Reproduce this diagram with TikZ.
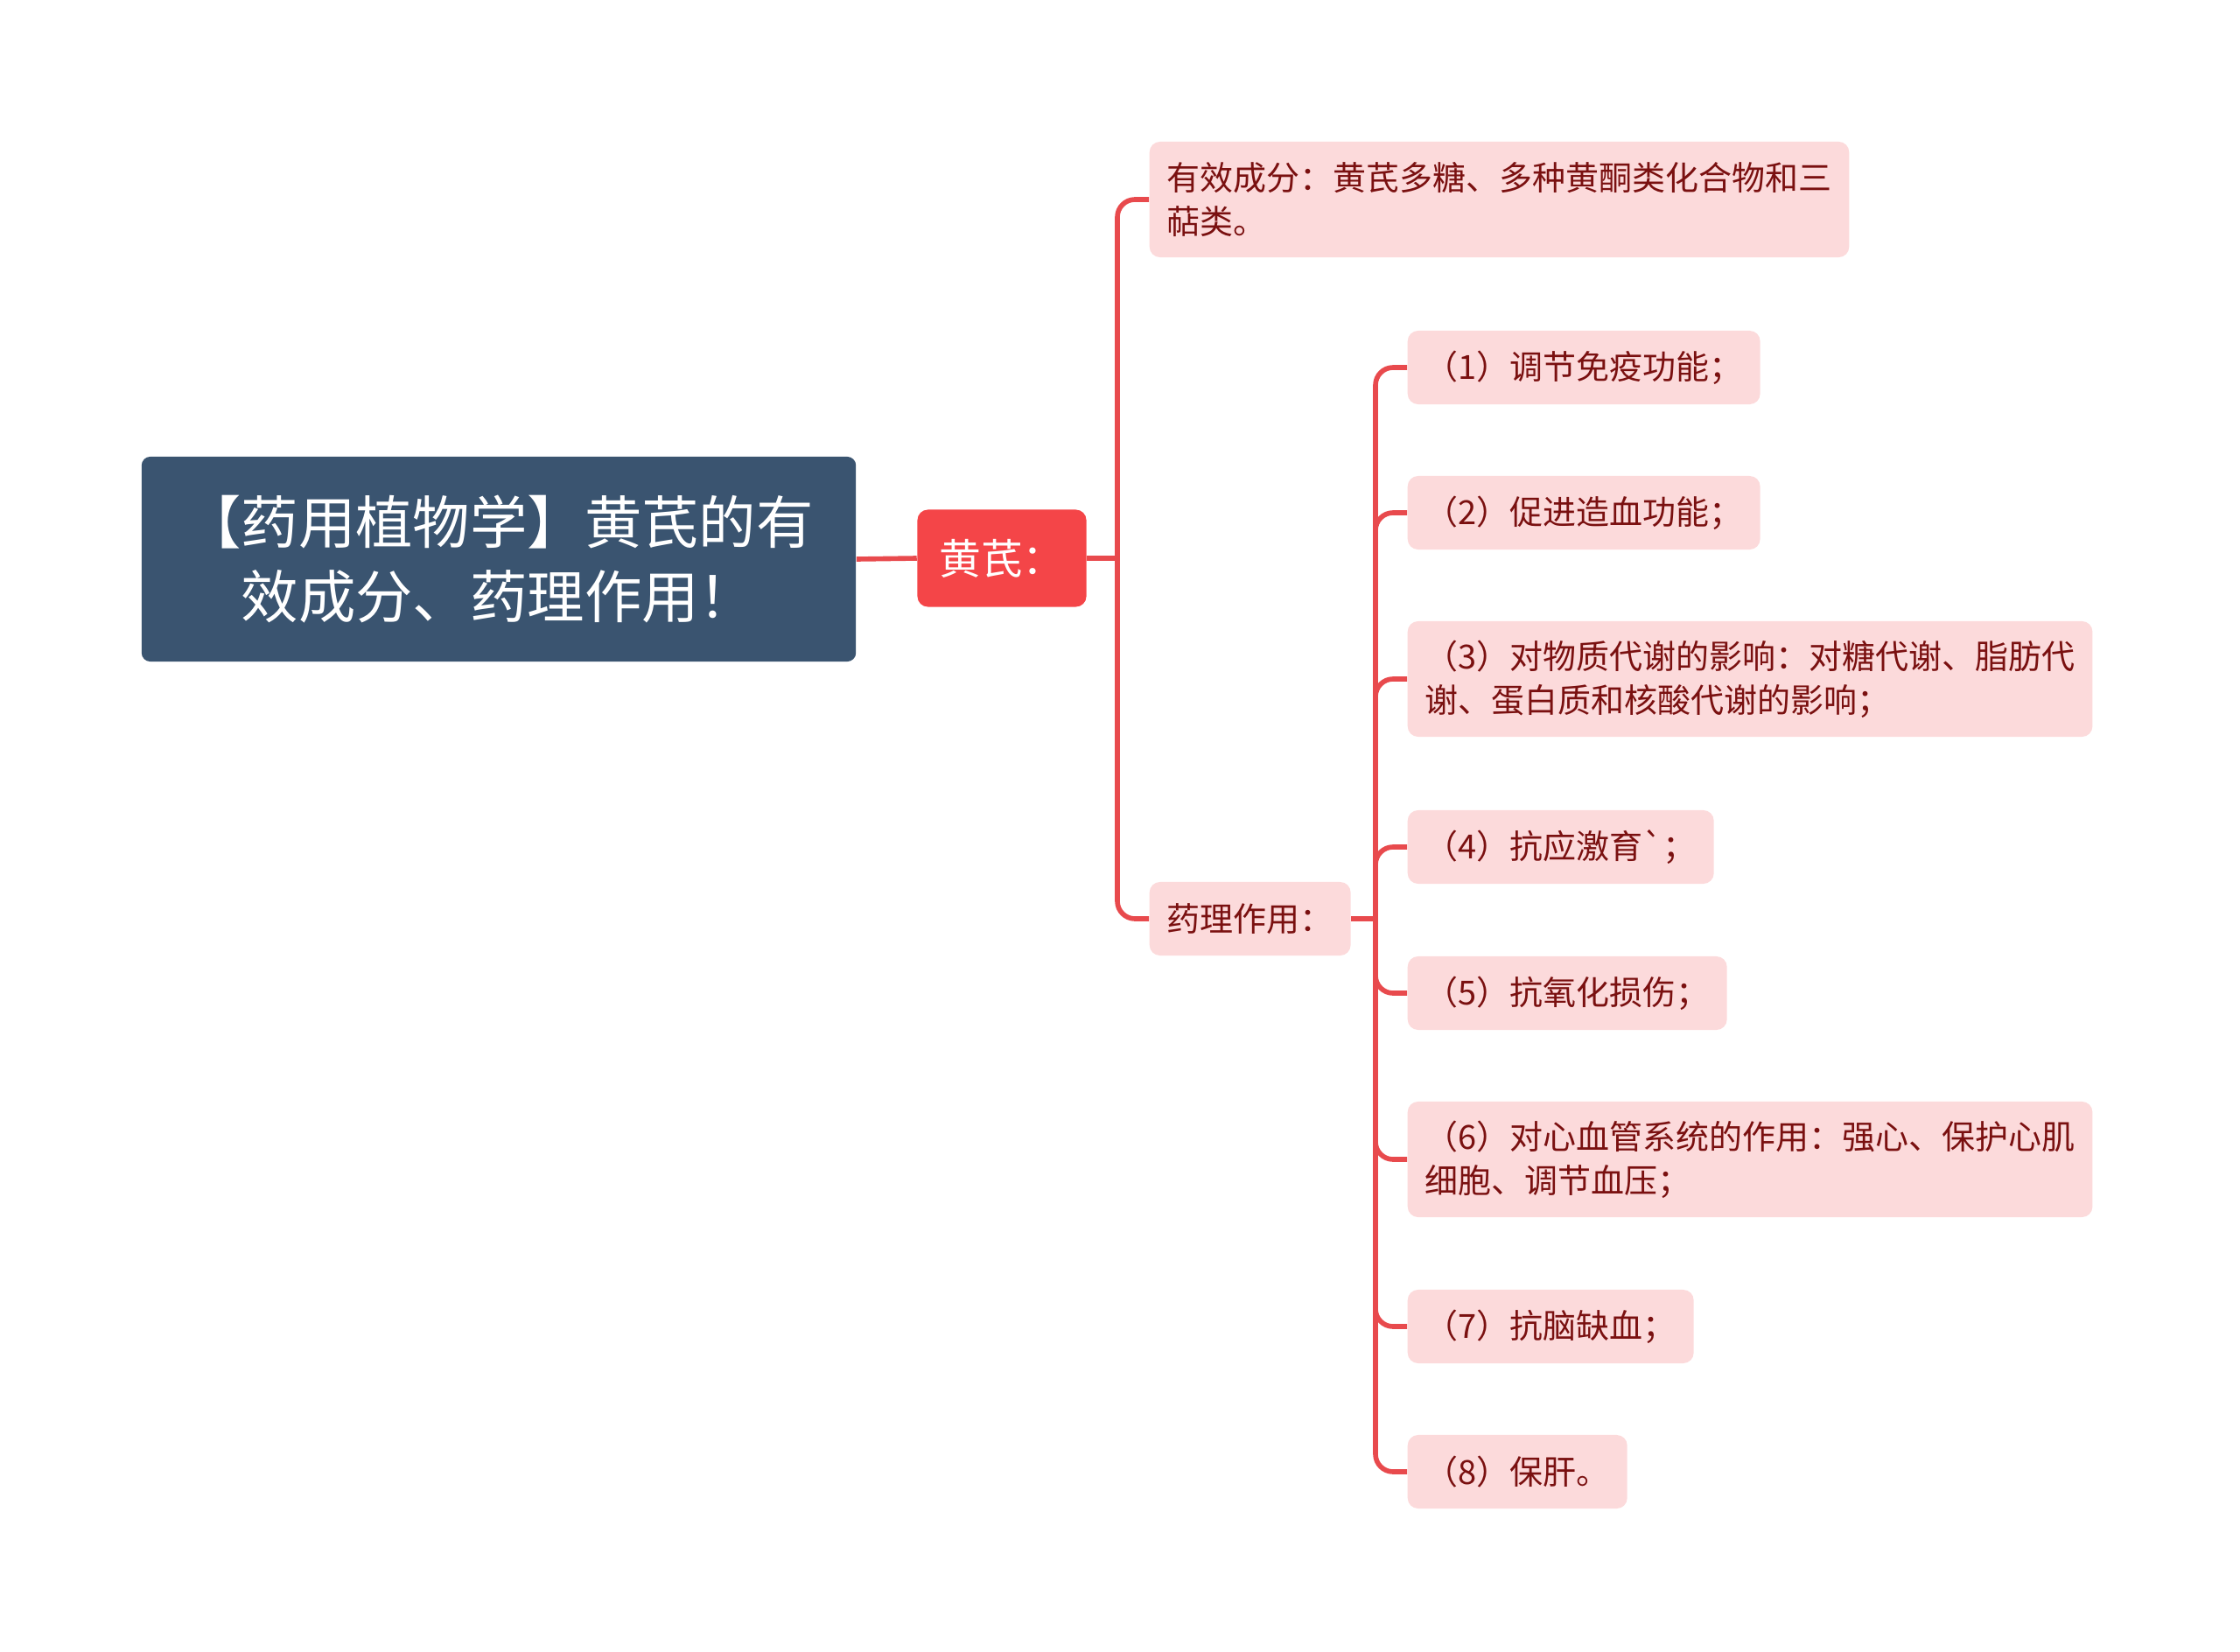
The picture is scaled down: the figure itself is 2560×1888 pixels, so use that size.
\documentclass[tikz,border=0pt]{standalone}
\usepackage{fontspec}
\setmainfont{Noto Sans CJK SC}
\usetikzlibrary{positioning}
\definecolor{rootblue}{RGB}{58,84,112}
\definecolor{midred}{RGB}{244,69,72}
\definecolor{leafpink}{RGB}{252,218,219}
\definecolor{leaftext}{RGB}{122,16,16}
\definecolor{linkred}{RGB}{232,74,77}

\begin{document}
\begin{tikzpicture}[x=0.01cm,y=-0.01cm]
\tikzstyle{root}=[rectangle,rounded corners=0.1cm,fill=rootblue,text=white,minimum width=8.16cm,minimum height=2.34cm,align=center,font=\fontsize{18.6}{24.1}\selectfont]
\tikzstyle{mid}=[rectangle,rounded corners=0.12cm,fill=midred,text=white,minimum width=1.93cm,minimum height=1.11cm,font=\fontsize{13.6}{16}\selectfont]
\tikzstyle{leaf}=[rectangle,rounded corners=0.12cm,fill=leafpink,text=leaftext,anchor=west,inner xsep=0.2cm,minimum height=0.84cm,align=left,font=\fontsize{10.8}{14.2}\selectfont]
\tikzstyle{link}=[draw=linkred,line width=1.6pt,rounded corners=0.2cm]
\useasboundingbox (0,0) rectangle (2560,1888);

\node[root](title) at (570,639){【药用植物学】黄芪的有\\效成分、药理作用！};
\node[mid](huangqi) at (1145,638){黄芪：};

\node[leaf,minimum height=1.32cm](youxiao) at (1313,228){有效成分：黄芪多糖、多种黄酮类化合物和三\\萜类。};
\node[leaf](yaoli) at (1313,1050){药理作用：};

\node[leaf](e1) at (1608,420){（1）调节免疫功能；};
\node[leaf](e2) at (1608,586){（2）促进造血功能；};
\node[leaf,minimum height=1.32cm](e3) at (1608,776){（3）对物质代谢的影响：对糖代谢、脂肪代\\谢、蛋白质和核酸代谢的影响；};
\node[leaf](e4) at (1608,968){（4）抗应激育\textasciigrave；};
\node[leaf](e5) at (1608,1135){（5）抗氧化损伤；};
\node[leaf,minimum height=1.32cm](e6) at (1608,1325){（6）对心血管系统的作用：强心、保护心肌\\细胞、调节血压；};
\node[leaf](e7) at (1608,1516){（7）抗脑缺血；};
\node[leaf](e8) at (1608,1682){（8）保肝。};

\coordinate(fork1) at (1277,638);
\coordinate(fork2) at (1572,1050);

\draw[link] (title.east)--(huangqi.west);
\draw[link] (huangqi.east)--(fork1);
\draw[link] (youxiao.west)-|(fork1);
\draw[link] (yaoli.west)-|(fork1);

\draw[link] (yaoli.east)--(fork2);
\foreach \n in {e1,e2,e3,e4,e5,e6,e7,e8}
  \draw[link] (\n.west)-|(fork2);
\end{tikzpicture}
\end{document}
